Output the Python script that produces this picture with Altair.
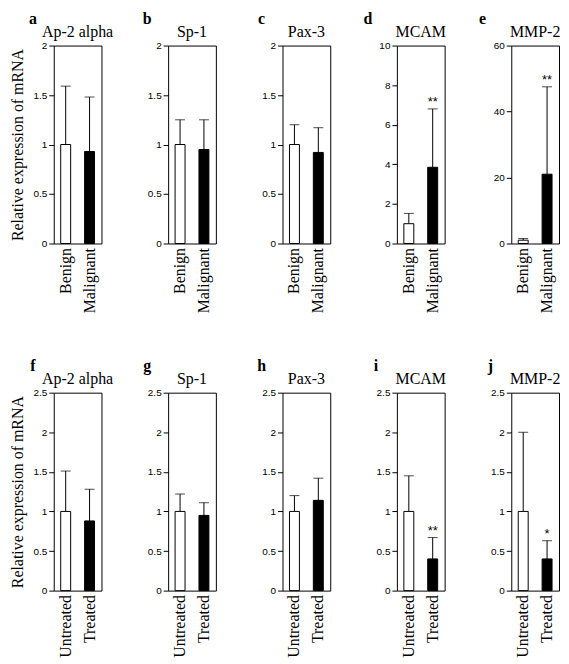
import altair as alt
import pandas as pd

SERIF = "Liberation Serif"
SANS = "Liberation Sans"

# ---- data ----
top_groups = ["Benign", "Malignant"]
top_genes = ["Ap-2 alpha", "Sp-1", "Pax-3", "MCAM", "MMP-2"]
top_letters = ["a", "b", "c", "d", "e"]
top_mean_1 = [1.0, 1.0, 1.0, 1.0, 1.0]
top_mean_2 = [0.93, 0.95, 0.92, 3.85, 21.0]
top_upper_1 = [1.59, 1.25, 1.20, 1.52, 1.5]
top_upper_2 = [1.48, 1.25, 1.17, 6.8, 47.5]
top_stars = ["", "", "", "**", "**"]
top_ymax = [2, 2, 2, 10, 60]
top_ticks = [[0, 0.5, 1, 1.5, 2], [0, 0.5, 1, 1.5, 2], [0, 0.5, 1, 1.5, 2],
             [0, 2, 4, 6, 8, 10], [0, 20, 40, 60]]

bot_groups = ["Untreated", "Treated"]
bot_genes = ["Ap-2 alpha", "Sp-1", "Pax-3", "MCAM", "MMP-2"]
bot_letters = ["f", "g", "h", "i", "j"]
bot_mean_1 = [1.0, 1.0, 1.0, 1.0, 1.0]
bot_mean_2 = [0.88, 0.95, 1.14, 0.40, 0.40]
bot_upper_1 = [1.51, 1.22, 1.20, 1.45, 2.0]
bot_upper_2 = [1.28, 1.11, 1.42, 0.67, 0.63]
bot_stars = ["", "", "", "**", "*"]
bot_ymax = [2.5, 2.5, 2.5, 2.5, 2.5]
bot_ticks = [[0, 0.5, 1, 1.5, 2, 2.5]] * 5

YTITLE = "Relative expression of mRNA"
W, H = 48, 199


def panel(groups, gene, letter, m1, m2, u1, u2, star, ymax, ticks, first):
    df = pd.DataFrame({
        "group": groups,
        "mean": [m1, m2],
        "upper": [u1, u2],
        "star": ["", star],
    })
    x = alt.X("group:N", sort=groups,
              scale=alt.Scale(paddingInner=0, paddingOuter=0),
              axis=alt.Axis(title=None, labelAngle=-90, labelFont=SERIF,
                            labelFontSize=16, labelColor="black", ticks=False,
                            domain=False, labelPadding=4))
    yaxis = alt.Axis(values=ticks, labelExpr="'' + datum.value", grid=False,
                     tickSize=5, tickColor="black", domain=False,
                     labelFont=SANS, labelFontSize=10, labelColor="black",
                     labelPadding=2, labelOverlap=False,
                     title=YTITLE if first else None,
                     titleFont=SERIF, titleFontSize=16, titleFontWeight="normal",
                     titleColor="black", titlePadding=8)
    yscale = alt.Scale(domain=[0, ymax], nice=False)
    base = alt.Chart(df)
    err = base.mark_rule(color="black", strokeWidth=1).encode(
        x=x, y=alt.Y("mean:Q", scale=yscale, axis=yaxis), y2="upper:Q")
    cap = base.mark_tick(color="black", size=10, thickness=1).encode(
        x=x, y=alt.Y("upper:Q", scale=yscale, axis=yaxis))
    bars = base.mark_bar(size=10, stroke="black", strokeWidth=1).encode(
        x=x, y=alt.Y("mean:Q", scale=yscale, axis=yaxis),
        fill=alt.Fill("group:N", sort=groups,
                      scale=alt.Scale(domain=groups, range=["white", "black"]),
                      legend=None))
    stars = base.mark_text(font=SANS, fontSize=13, color="black",
                           baseline="alphabetic", dy=-3).encode(
        x=x, y=alt.Y("upper:Q", scale=yscale, axis=yaxis), text="star:N")
    lab_df = pd.DataFrame({"letter": [letter], "gene": [gene]})
    lab = alt.Chart(lab_df).mark_text(
        font=SERIF, fontSize=16, fontWeight="bold", color="black",
        align="center", baseline="top").encode(
        x=alt.value(-21 if ymax < 10 else -29), y=alt.value(-35),
        text="letter:N")
    gname = alt.Chart(lab_df).mark_text(
        font=SERIF, fontSize=16, color="black",
        align="center", baseline="alphabetic").encode(
        x=alt.value(W / 2), y=alt.value(-9), text="gene:N")
    return alt.layer(err, cap, bars, stars, lab, gname).properties(
        width=W, height=H)


panels = []
for i in range(5):
    panels.append(panel(top_groups, top_genes[i], top_letters[i], top_mean_1[i],
                        top_mean_2[i], top_upper_1[i], top_upper_2[i],
                        top_stars[i], top_ymax[i], top_ticks[i], i == 0))
for i in range(5):
    panels.append(panel(bot_groups, bot_genes[i], bot_letters[i], bot_mean_1[i],
                        bot_mean_2[i], bot_upper_1[i], bot_upper_2[i],
                        bot_stars[i], bot_ymax[i], bot_ticks[i], i == 0))

chart = alt.concat(*panels, columns=5, bounds="flush",
                   spacing={"row": 150, "column": 67}).resolve_scale(
    y="independent", x="independent", fill="independent"
).properties(
    padding={"left": 0, "top": 0, "right": 0, "bottom": 0},
    background="white"
).configure_view(stroke="black", strokeWidth=1)

chart.save("out.html", embed_options={"renderer": "svg", "actions": False})
